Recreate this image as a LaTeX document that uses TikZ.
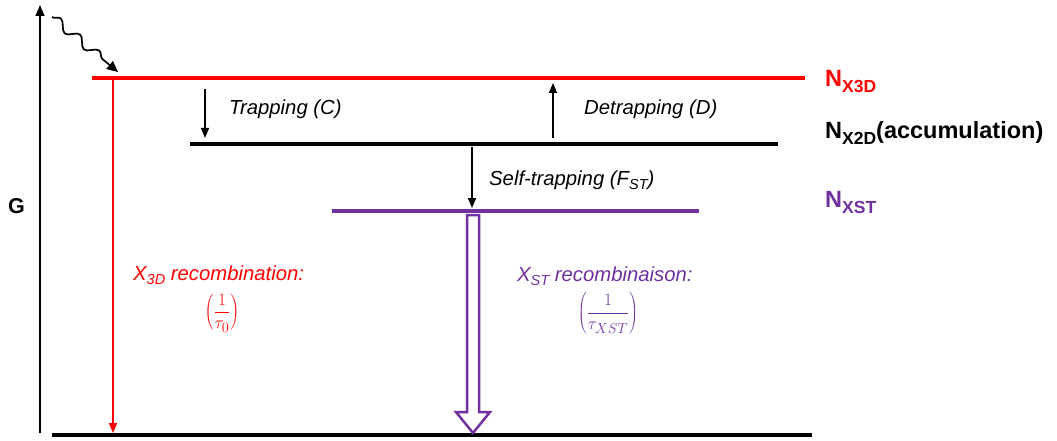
\documentclass[tikz,border=0pt]{standalone}
\usepackage{fontspec}
\setmainfont{Liberation Sans}
\usetikzlibrary{arrows.meta,decorations.pathmorphing}
\definecolor{myred}{RGB}{255,0,0}
\definecolor{mypurple}{RGB}{112,48,160}
\tikzset{
  level/.style={line width=4pt},
  thinarrow/.style={line width=1.3pt,-{Triangle[length=10pt,width=8pt]}},
  lbl/.style={anchor=base west,inner sep=0pt,font=\fontsize{23.5}{26}\selectfont\bfseries},
  itlbl/.style={anchor=base west,inner sep=0pt,font=\fontsize{20.3}{23}\selectfont\itshape},
  frac/.style={inner sep=0pt,font=\fontsize{19}{22}\selectfont}
}
\newcommand{\subx}[1]{\raisebox{-6pt}{\fontsize{17.5}{18}\selectfont #1}}
\newcommand{\subi}[1]{\raisebox{-4pt}{\fontsize{14.5}{16}\selectfont #1}}
\begin{document}
\begin{tikzpicture}[x=1pt,y=-1pt]
\useasboundingbox (0,0) rectangle (1057,441);
% axis
\coordinate (ax0) at (40,433);
\coordinate (ax1) at (40,5);
\draw[line width=1.3pt,-{Triangle[length=11pt,width=9pt]}] (ax0) -- (ax1);
\node[anchor=base,inner sep=0pt,font=\fontsize{21.5}{24}\selectfont\bfseries] (G) at (16.5,213) {G};
% wavy arrow
\coordinate (w0) at (52,17);
\coordinate (w1) at (118,72);
\draw[line width=1.7pt,decorate,decoration={snake,amplitude=4.5pt,segment length=25pt,post length=10pt},-{Triangle[length=11pt,width=10pt]}] (w0) -- (w1);
% levels
\coordinate (r0) at (92,78);  \coordinate (r1) at (805,78);
\coordinate (b0) at (190,144); \coordinate (b1) at (778,144);
\coordinate (p0) at (332,211); \coordinate (p1) at (699,211);
\coordinate (g0) at (52,435); \coordinate (g1) at (812,435);
\draw[level,myred] (r0) -- (r1);
\draw[level] (b0) -- (b1);
\draw[level,mypurple] (p0) -- (p1);
\draw[level] (g0) -- (g1);
% labels
\node[lbl,myred] (n3d) at (825,87) {N\subx{X3D}};
\node[lbl] (n2d) at (825,139) {N\subx{X2D}(accumulation)};
\node[lbl,mypurple] (nst) at (825,207) {N\subx{XST}};
% red recombination
\coordinate (ra0) at (113,80);
\coordinate (ra1) at (113,433);
\draw[thinarrow,myred] (ra0) -- (ra1);
% trapping
\coordinate (t0) at (205,89); \coordinate (t1) at (205,138);
\draw[thinarrow] (t0) -- (t1);
\node[itlbl] (trap) at (229,115) {Trapping (C)};
% detrapping
\coordinate (d0) at (553,138); \coordinate (d1) at (553,83);
\draw[thinarrow] (d0) -- (d1);
\node[itlbl] (detrap) at (584,115) {Detrapping (D)};
% self-trapping
\coordinate (s0) at (472,147); \coordinate (s1) at (472,208);
\draw[thinarrow] (s0) -- (s1);
\node[itlbl] (self) at (489,185) {Self-trapping (F\subi{ST})};
% hollow arrow
\draw[mypurple,line width=2.5pt,line join=miter,fill=white] (467,215) -- (467,412) -- (456,412) -- (473,433) -- (490,412) -- (479,412) -- (479,215) -- cycle;
% recombination texts
\node[itlbl,myred] (x3d) at (133,280) {X\subi{3D} recombination:};
\node[frac,myred] (f3d) at (222,313) {$\displaystyle\left(\frac{1}{\tau_0}\right)$};
\node[itlbl,mypurple] (xst) at (517,281) {X\subi{ST} recombinaison:};
\node[frac,mypurple] (fst) at (608,313) {$\displaystyle\left(\frac{1}{\tau_{XST}}\right)$};
\end{tikzpicture}
\end{document}
